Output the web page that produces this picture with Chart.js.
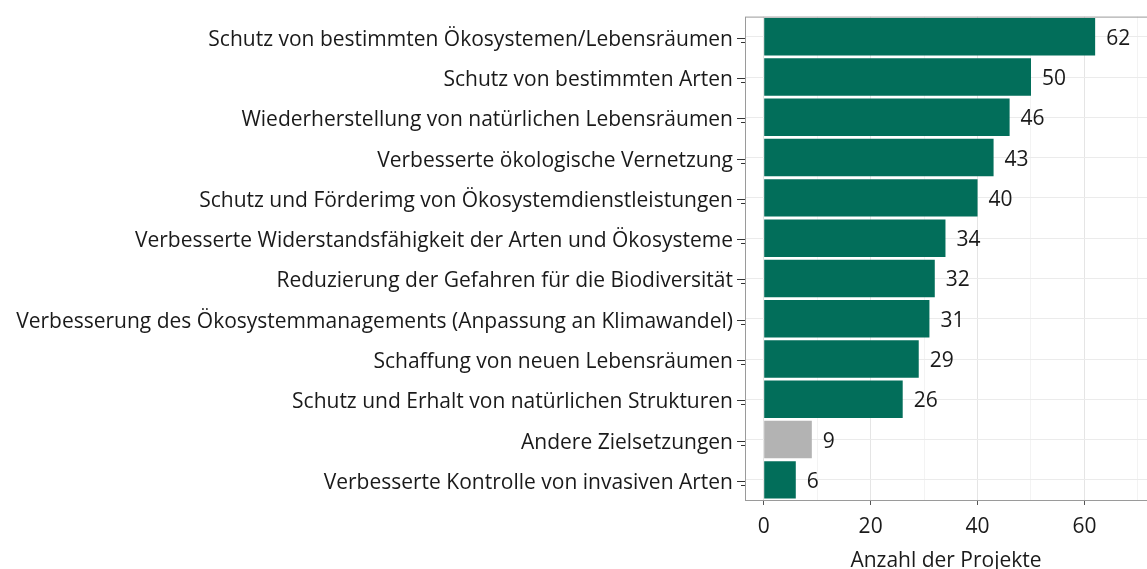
<!DOCTYPE html>
<html>
<head>
<meta charset="utf-8">
<script src="https://cdn.jsdelivr.net/npm/chart.js@4"></script>
<style>
  html, body { margin: 0; padding: 0; background: #fff; }
  canvas { display: block; }
</style>
</head>
<body>
<canvas id="chart" width="1147" height="569"></canvas>
<script>
// Ziele der Projekte (von oben nach unten)
const categories = [
  "Schutz von bestimmten Ökosystemen/Lebensräumen",
  "Schutz von bestimmten Arten",
  "Wiederherstellung von natürlichen Lebensräumen",
  "Verbesserte ökologische Vernetzung",
  "Schutz und Förderimg von Ökosystemdienstleistungen",
  "Verbesserte Widerstandsfähigkeit der Arten und Ökosysteme",
  "Reduzierung der Gefahren für die Biodiversität",
  "Verbesserung des Ökosystemmanagements (Anpassung an Klimawandel)",
  "Schaffung von neuen Lebensräumen",
  "Schutz und Erhalt von natürlichen Strukturen",
  "Andere Zielsetzungen",
  "Verbesserte Kontrolle von invasiven Arten"
]
const projectCounts = [62, 50, 46, 43, 40, 34, 32, 31, 29, 26, 9, 6]
const xTicks = [0, 10, 20, 30, 40, 50, 60, 70]
const axisTitle = "Anzahl der Projekte"

const green = "#026e5a"
const grey = "#b3b3b3"
const FONT = "Open Sans"
const SIZE = 21

const barColors = categories.map(c => c === "Andere Zielsetzungen" ? grey : green)

// Zahlen rechts neben den Balken
const valueLabels = {
  id: "valueLabels",
  afterDatasetsDraw(chart) {
    const ctx = chart.ctx
    const meta = chart.getDatasetMeta(0)
    ctx.save()
    ctx.font = SIZE + "px " + FONT
    ctx.fillStyle = "#1a1a1a"
    ctx.textBaseline = "middle"
    ctx.textAlign = "left"
    meta.data.forEach((bar, i) => {
      ctx.fillText(String(projectCounts[i]), bar.x + 11, bar.y + 2)
    })
    ctx.restore()
  }
}

// Rahmen um das Panel + doppelte Tickstriche links
const panelBorder = {
  id: "panelBorder",
  afterDraw(chart) {
    const a = chart.chartArea
    const ctx = chart.ctx
    ctx.save()
    ctx.strokeStyle = "#9a9a9a"
    ctx.lineWidth = 1
    ctx.strokeRect(a.left + 0.5, a.top + 0.5, a.right - a.left + 5, a.bottom - a.top)
    const ys = chart.scales.y
    ctx.strokeStyle = "#333"
    categories.forEach((c, i) => {
      const y = Math.round(ys.getPixelForValue(i))
      ctx.beginPath()
      ctx.moveTo(a.left - 8, y + 1.5)
      ctx.lineTo(a.left, y + 1.5)
      ctx.moveTo(a.left - 4, y + 5.5)
      ctx.lineTo(a.left, y + 5.5)
      ctx.stroke()
    })
    ctx.restore()
  }
}

new Chart(document.getElementById("chart"), {
  type: "bar",
  data: {
    labels: categories,
    datasets: [{
      data: projectCounts,
      backgroundColor: barColors,
      borderWidth: 0,
      barPercentage: 0.93,
      categoryPercentage: 1
    }]
  },
  options: {
    indexAxis: "y",
    responsive: false,
    animation: false,
    layout: { padding: { top: 13, right: 0, left: 0, bottom: 0 } },
    plugins: {
      legend: { display: false },
      tooltip: { enabled: false }
    },
    scales: {
      x: {
        type: "linear",
        min: -3.5,
        max: 71.7,
        afterBuildTicks(scale) {
          scale.ticks = xTicks.map(v => ({ value: v }))
        },
        afterFit(scale) { scale.height = 69 },
        border: { display: false },
        grid: {
          color: c => (c.tick && c.tick.value % 20 === 0) ? "#e5e5e5" : "#f3f3f3",
          tickColor: c => (c.tick && c.tick.value % 20 === 0) ? "#555" : "rgba(0,0,0,0)",
          tickLength: 5,
          lineWidth: 1
        },
        ticks: {
          autoSkip: false,
          maxRotation: 0,
          padding: 9,
          color: "#1a1a1a",
          font: { family: FONT, size: SIZE },
          callback: v => v % 20 === 0 ? String(v) : ""
        },
        title: {
          display: true,
          text: axisTitle,
          color: "#1a1a1a",
          font: { family: FONT, size: SIZE },
          padding: { top: 4, bottom: -5 }
        }
      },
      y: {
        afterFit(scale) { scale.width = 745 },
        border: { display: false },
        grid: {
          offset: false,
          color: "#ebebeb",
          tickColor: "rgba(0,0,0,0)",
          tickLength: 8
        },
        ticks: {
          autoSkip: false,
          padding: 4,
          labelOffset: 3,
          color: "#1a1a1a",
          font: { family: FONT, size: SIZE }
        }
      }
    }
  },
  plugins: [valueLabels, panelBorder]
})
</script>
</body>
</html>
